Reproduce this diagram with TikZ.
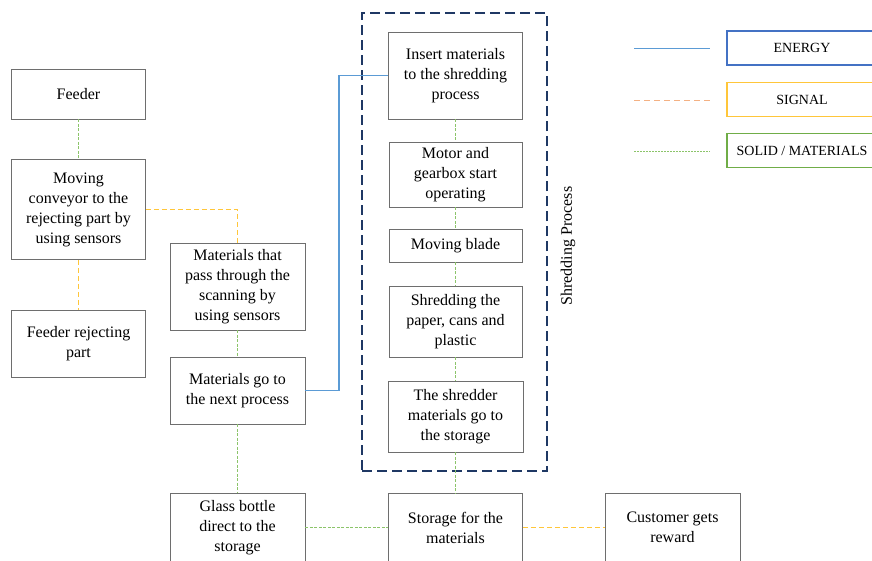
\documentclass[tikz,border=0pt]{standalone}
\usepackage{fontspec}
\setmainfont{Liberation Serif}
\begin{document}
\begin{tikzpicture}[x=1pt,y=-1pt,
  box/.style={draw=boxgray,line width=0.9pt,align=center,inner sep=0pt,
    font=\fontsize{16}{20}\selectfont},
  leg/.style={draw,line width=1.4pt,align=center,inner sep=0pt,minimum width=150pt,minimum height=34pt,
    font=\fontsize{14}{16}\selectfont},
  solid link/.style={draw=matgreen,line width=1.3pt,dash pattern=on 3pt off 1.5pt},
  signal link/.style={draw=sigyellow,line width=1.3pt,dash pattern=on 5pt off 3pt},
  energy link/.style={draw=energyblue,line width=1.1pt}]
\definecolor{boxgray}{HTML}{6E6E6E}
\definecolor{matgreen}{HTML}{8CC46A}
\definecolor{sigyellow}{HTML}{FFC63A}
\definecolor{sigorange}{HTML}{F4B183}
\definecolor{energyblue}{HTML}{5B9BD5}
\definecolor{legblue}{HTML}{4472C4}
\definecolor{leggreen}{HTML}{70AD47}
\definecolor{navy}{HTML}{1F3864}
\useasboundingbox (0,0) rectangle (872,560);
\begin{scope}
\clip (0,0) rectangle (872,560);
% left column
\node[box,minimum width=134pt,minimum height=50pt] (feeder) at (78.5,94) {Feeder};
\node[box,minimum width=134pt,minimum height=100pt] (conv) at (78.5,209.5) {Moving\\conveyor to the\\rejecting part by\\using sensors};
\node[box,minimum width=134pt,minimum height=67pt] (reject) at (78.5,343.5) {Feeder rejecting\\part};
% middle column
\node[box,minimum width=135pt,minimum height=87pt] (pass) at (237.5,286.5) {Materials that\\pass through the\\scanning by\\using sensors};
\node[box,minimum width=135pt,minimum height=67pt] (next) at (237.5,390.5) {Materials go to\\the next process};
\node[box,minimum width=135pt,minimum height=68pt] (glass) at (237.5,527.5) {Glass bottle\\direct to the\\storage};
% shredding column
\node[box,minimum width=134pt,minimum height=87pt] (insert) at (455.5,75.5) {Insert materials\\to the shredding\\process};
\node[box,minimum width=133pt,minimum height=65pt] (motor) at (455.5,174.5) {Motor and\\gearbox start\\operating};
\node[box,minimum width=133pt,minimum height=33pt] (blade) at (455.5,245.5) {Moving blade};
\node[box,minimum width=133pt,minimum height=71pt] (shred) at (455.5,321.5) {Shredding the\\paper, cans and\\plastic};
\node[box,minimum width=135pt,minimum height=71pt] (store) at (455.5,416.5) {The shredder\\materials go to\\the storage};
\node[box,minimum width=134pt,minimum height=68pt] (storage) at (455.5,527.5) {Storage for the\\materials};
\node[box,minimum width=135pt,minimum height=68pt] (reward) at (672.5,527.5) {Customer gets\\reward};
% dashed group
\node[draw=navy,line width=1.8pt,dash pattern=on 10pt off 5pt,minimum width=185pt,minimum height=458pt,inner sep=0pt] (group) at (454.5,242) {};
\node[rotate=90,font=\fontsize{16}{20}\selectfont] (grouplabel) at (568,246) {Shredding Process};
% connectors
\draw[solid link] (feeder) -- (conv);
\draw[signal link] (conv) -- (reject);
\draw[signal link] (conv.east) -| (pass.north);
\draw[solid link] (pass) -- (next);
\draw[solid link] (next) -- (glass);
\draw[energy link] (next.east) -- ++(33.5,0) |- (insert.west);
\draw[solid link] (insert) -- (motor);
\draw[solid link] (motor) -- (blade);
\draw[solid link] (blade) -- (shred);
\draw[solid link] (shred) -- (store);
\draw[solid link] (store) -- (storage);
\draw[solid link] (glass) -- (storage);
\draw[signal link] (storage) -- (reward);
% legend
\node[leg,draw=legblue] (legE) at (802,48) {ENERGY};
\node[leg,draw=sigyellow] (legS) at (802,99.5) {SIGNAL};
\node[leg,draw=leggreen] (legM) at (802,150.5) {SOLID / MATERIALS};
\coordinate (e1) at (634,48.5); \coordinate (e2) at (710,48.5);
\coordinate (s1) at (634,100.5); \coordinate (s2) at (710,100.5);
\coordinate (m1) at (634,151.5); \coordinate (m2) at (710,151.5);
\draw[energy link] (e1) -- (e2);
\draw[draw=sigorange,line width=1.3pt,dash pattern=on 6pt off 4pt] (s1) -- (s2);
\draw[draw=matgreen,line width=1.2pt,dash pattern=on 2pt off 1pt] (m1) -- (m2);
\end{scope}
\end{tikzpicture}
\end{document}
